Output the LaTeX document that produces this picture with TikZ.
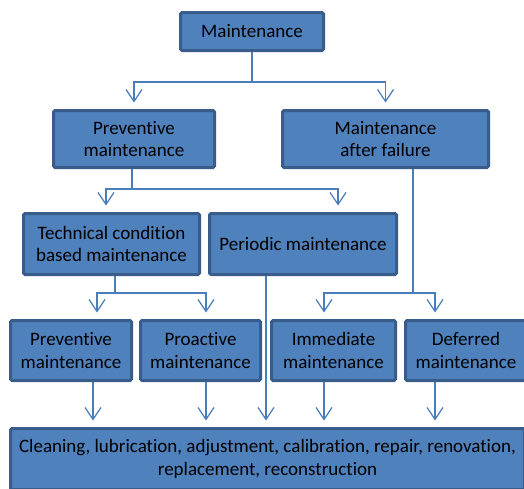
\documentclass[tikz,border=0pt]{standalone}
\usepackage{fontspec}
\setmainfont{Carlito}[Ligatures={NoCommon}]
\usepackage{tikz}
\usetikzlibrary{arrows.meta,calc}
\definecolor{boxfill}{HTML}{4F81BD}
\definecolor{boxline}{HTML}{385D8A}
\definecolor{linkcol}{HTML}{4A7EBB}
\tikzstyle{box}=[rectangle, draw=boxline, fill=boxfill
,line width=3pt
,rounded corners=1.5pt
,inner sep=0pt
,align=center
,font=\fontsize{19}{22.5}\selectfont
]
\tikzstyle{link} = [draw=linkcol, line width=1.2pt]
\tikzstyle{arrow link} = [link, -{Straight Barb[length=12pt,width=16pt]}, shorten >=6.5pt]

\begin{document}
\begin{tikzpicture}[x=1pt,y=-1pt]
    \useasboundingbox (0,0) rectangle (524,488);
    \fill[white] (0,0) rectangle (524,488);
    \clip (0,0) rectangle (524,488);
    % First we draw the boxes
    \foreach \pos/\name/\w/\h/\txt in {{(252,31.5)/maint/143/38/Maintenance},
        {(134,139)/prev/161/57/Preventive\\maintenance},
        {(385.5,139)/after/206/57/Maintenance\\after failure},
        {(111.5,244)/tech/176/61/Technical condition\\based maintenance},
        {(303,244)/periodic/187/61/Periodic maintenance},
        {(71,350.5)/prevtwo/121/60/Preventive\\maintenance},
        {(200.5,350.5)/proact/120/60/Proactive\\maintenance},
        {(333.5,350.5)/immed/124/60/Immediate\\maintenance},
        {(466,350.5)/defer/121/60/Deferred\\maintenance}}
        \node[box, minimum width=\w pt, minimum height=\h pt] (\name) at \pos {\txt};
    \node[box, minimum width=514pt, minimum height=61pt] (works) at (267.5,459)
        {Cleaning, lubrication, adjustment, calibration, repair, renovation,\\replacement, reconstruction};

    % Junction points of the branches
    \coordinate (j1) at (252,82);
    \coordinate (j2) at (132,189);
    \coordinate (j3) at (115,293);
    \coordinate (j4) at (413,293);

    % Connect boxes with arrows
    \path[link] (maint.south) -- (j1);
    \path[arrow link] (j1) -| (prev.north);
    \path[arrow link] (j1) -| (after.north);

    \path[link] (j2 |- prev.south) -- (j2);
    \path[arrow link] (j2) -| ([xshift=-5.5pt]tech.north);
    \path[arrow link] (j2) -| ([xshift=35pt]periodic.north);

    \path[link] (j3 |- tech.south) -- (j3);
    \path[arrow link] (j3) -| ([xshift=26pt]prevtwo.north);
    \path[arrow link] (j3) -| ([xshift=5.5pt]proact.north);

    \path[link] (j4 |- after.south) -- (j4);
    \path[arrow link] (j4) -| ([xshift=-9.5pt]immed.north);
    \path[arrow link] (j4) -| ([xshift=-31pt]defer.north);

    \foreach \source/\dx in {prevtwo/22, proact/5.5, periodic/-37, immed/-9.5, defer/-31}
        \path[arrow link] ($(\source.south)+(\dx,0)$) coordinate (s) -- (s |- works.north);
\end{tikzpicture}
\end{document}
